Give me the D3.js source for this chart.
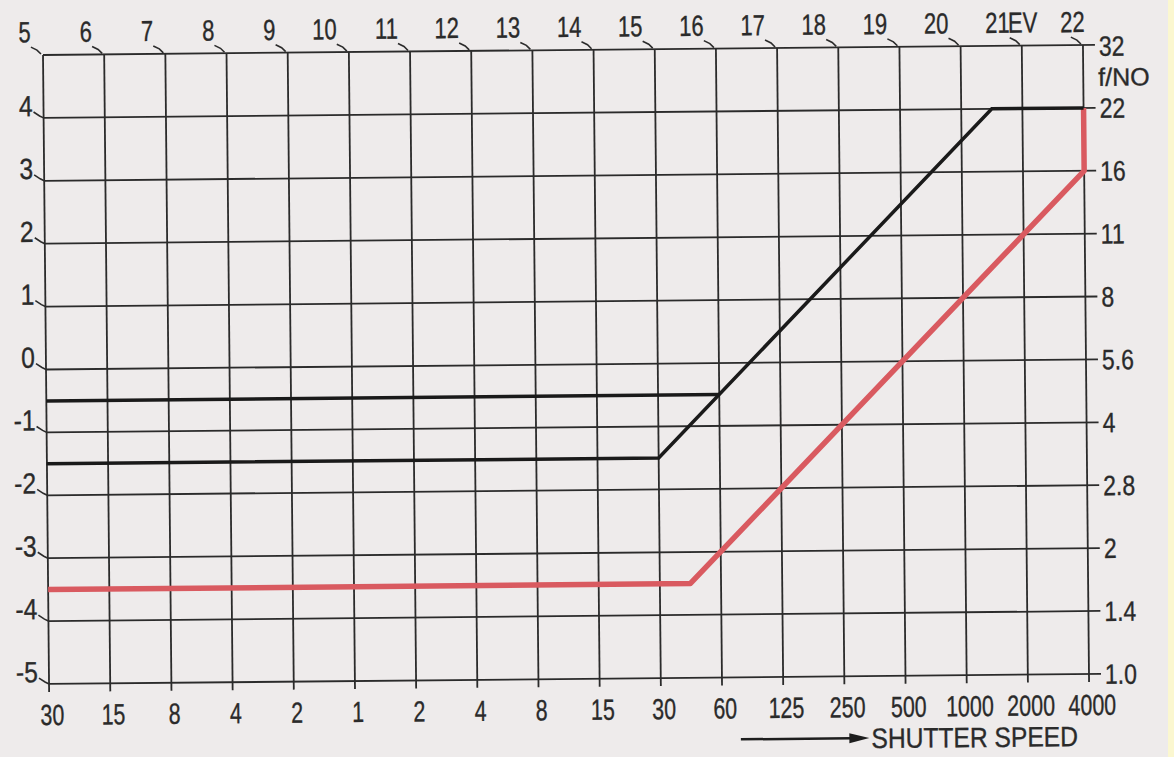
<!DOCTYPE html>
<html>
<head>
<meta charset="utf-8">
<script src="https://cdn.jsdelivr.net/npm/d3@7"></script>
<style>
  html, body { margin: 0; padding: 0; background: #eeebeb; }
  text { font-family: "Liberation Sans", Arial, sans-serif; fill: #2a2a2a; stroke: #2a2a2a; stroke-width: 0.35; }
</style>
</head>
<body>
<div id="chart"></div>
<script>
// Shutter speed columns (Tv) and their labels
const tvValues = [-5, -4, -3, -2, -1, 0, 1, 2, 3, 4, 5, 6, 7, 8, 9, 10, 11, 12]
const speedLabels = ["30", "15", "8", "4", "2", "1", "2", "4", "8", "15", "30", "60", "125", "250", "500", "1000", "2000", "4000"]
const evLabels = ["5", "6", "7", "8", "9", "10", "11", "12", "13", "14", "15", "16", "17", "18", "19", "20", "21", "22"]

// Aperture rows (Av) and labels on both sides
const avValues = [0, 1, 2, 3, 4, 5, 6, 7, 8, 9, 10]
const fNumbers = ["1.0", "1.4", "2", "2.8", "4", "5.6", "8", "11", "16", "22", "32"]
const leftLabels = ["-5", "-4", "-3", "-2", "-1", "0", "1", "2", "3", "4", ""]

// Program lines: [Tv, Av]
const redProgram = [[-5, 1.5], [5.5, 1.5], [12, 8], [12, 9]]
const blackUpper = [[-5, 4.5], [6, 4.5]]
const blackLower = [[-5, 3.5], [5, 3.5], [10.5, 9], [12, 9]]

const width = 1174
const height = 757

const svg = d3.select("#chart")
    .append("svg")
    .attr("width", width)
    .attr("height", height)

svg.append("rect").attr("width", width).attr("height", height).attr("fill", "#eeebeb")
svg.append("rect").attr("x", 1168).attr("width", 6).attr("height", height).attr("fill", "#fbf7d0")

// the scan is a little tilted
const g = svg.append("g").attr("transform", "rotate(-0.55, 565, 365)")

const x = d3.scaleLinear().domain([-5, 12]).range([46, 1086])
const y = d3.scaleLinear().domain([0, 10]).range([679, 50])

const gridColor = "#2b2b2b"

// condensed look: squeeze the glyphs horizontally
function label(sel, px, py, str, size, squeeze, anchor) {
    return sel.append("text")
        .attr("transform", `translate(${px},${py}) scale(${squeeze},1)`)
        .attr("text-anchor", anchor || "start")
        .attr("font-size", size)
        .text(str)
}

// Grid
g.append("g").selectAll("line.v")
    .data(tvValues)
    .enter().append("line")
    .attr("x1", d => x(d)).attr("x2", d => x(d))
    .attr("y1", y(10)).attr("y2", y(0) + 8)
    .attr("stroke", gridColor).attr("stroke-width", 1.8)

g.append("g").selectAll("line.h")
    .data(avValues)
    .enter().append("line")
    .attr("x1", x(-5)).attr("x2", x(12) + 12)
    .attr("y1", d => y(d)).attr("y2", d => y(d))
    .attr("stroke", gridColor).attr("stroke-width", 1.8)

// Top EV labels with small slanted ticks
const topAxis = g.append("g")
topAxis.selectAll("path")
    .data(tvValues)
    .enter().append("path")
    .attr("d", d => `M${x(d) - 12},${y(10) - 8} L${x(d) - 6},${y(10) - 5} L${x(d) - 2},${y(10) - 1}`)
    .attr("fill", "none").attr("stroke", gridColor).attr("stroke-width", 1.6)
tvValues.forEach((d, i) => {
    const last = i === tvValues.length - 1
    label(topAxis, last ? x(d) + 2 : x(d) - 12, y(10) - 13, evLabels[i], 29, 0.76, "end")
})
label(topAxis, x(11) + 1, y(10) - 13, "EV", 29, 0.76, "middle")

// Left labels
const leftAxis = g.append("g")
avValues.forEach((d, i) => {
    if (leftLabels[i] === "") return
    leftAxis.append("path")
        .attr("d", `M${x(-5) - 10},${y(d) - 6} L${x(-5) - 4},${y(d) - 2} L${x(-5)},${y(d)}`)
        .attr("fill", "none").attr("stroke", gridColor).attr("stroke-width", 1.6)
    label(leftAxis, x(-5) - 11, y(d) - 2, leftLabels[i], 29, 0.85, "end")
})

// Right f-number labels (32 sits a little below its line, f/NO under it)
const rightAxis = g.append("g")
avValues.forEach((d, i) => {
    const shift = i === avValues.length - 1 ? 11 : 10
    label(rightAxis, x(12) + 16, y(d) + shift, fNumbers[i], 28, 0.82)
})
label(rightAxis, x(12) + 15, y(10) + 41, "f/NO", 25, 1.0)

// Bottom shutter speed labels
const bottomAxis = g.append("g")
tvValues.forEach((d, i) => {
    label(bottomAxis, x(d) + 3, y(0) + 41, speedLabels[i], 29, 0.74, "middle")
})

// Arrow + axis title
const arrowY = y(0) + 62
g.append("line")
    .attr("x1", x(6.3)).attr("x2", x(8.1))
    .attr("y1", arrowY).attr("y2", arrowY)
    .attr("stroke", "#1e1e1e").attr("stroke-width", 2.5)
g.append("path")
    .attr("d", `M${x(8.4)},${arrowY} L${x(8.4) - 20},${arrowY - 5} L${x(8.4) - 20},${arrowY + 5} Z`)
    .attr("fill", "#1e1e1e")
label(g, x(8.4) + 2, arrowY + 10, "SHUTTER SPEED", 28, 0.88)

// Program lines
const line = d3.line().x(d => x(d[0])).y(d => y(d[1]))

g.append("path").datum(redProgram)
    .attr("d", line)
    .attr("fill", "none").attr("stroke", "#d95a60").attr("stroke-width", 5.5)
    .attr("stroke-linejoin", "round")

g.append("path").datum(blackUpper)
    .attr("d", line)
    .attr("fill", "none").attr("stroke", "#1a1a1a").attr("stroke-width", 3.5)

g.append("path").datum(blackLower)
    .attr("d", line)
    .attr("fill", "none").attr("stroke", "#1a1a1a").attr("stroke-width", 3.5)
</script>
</body>
</html>
